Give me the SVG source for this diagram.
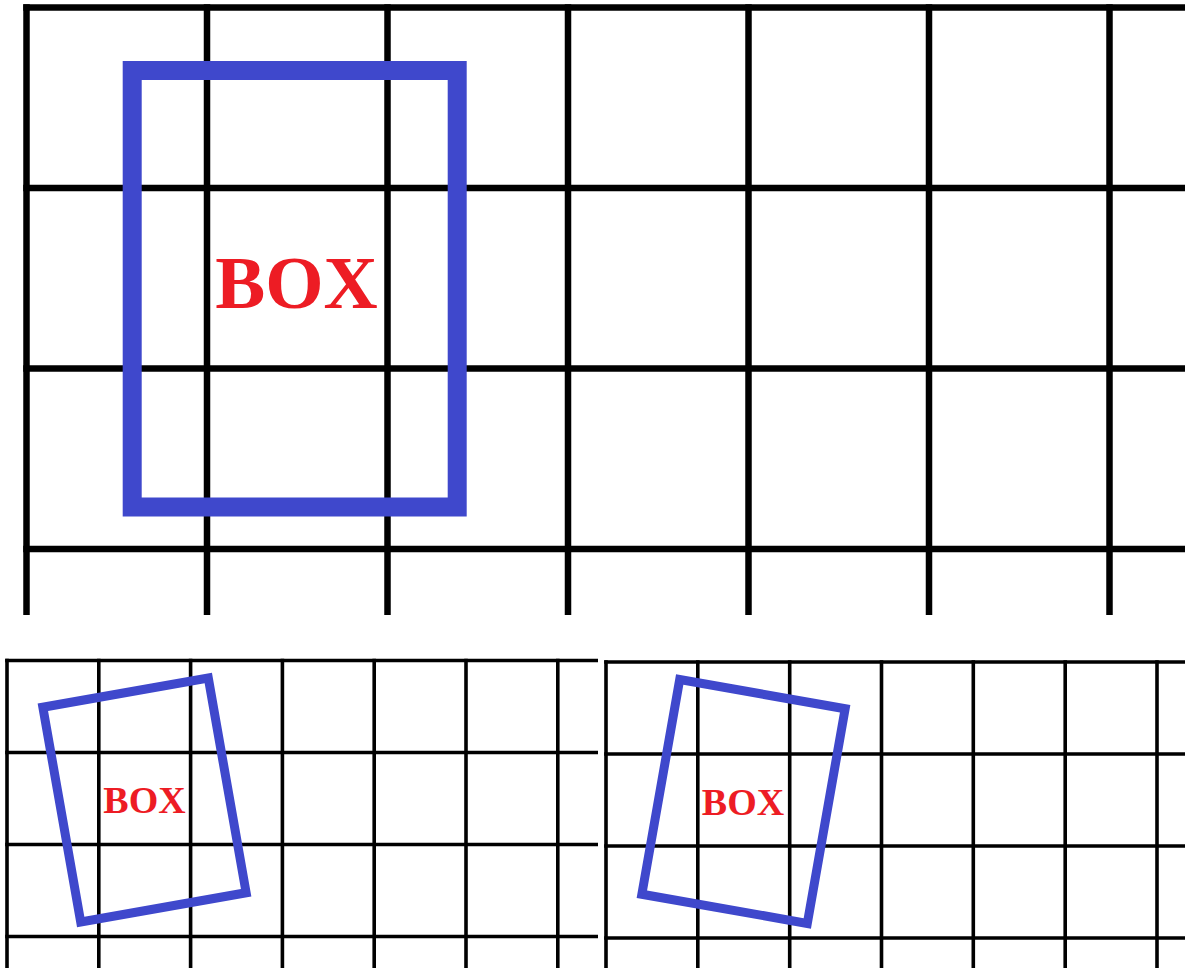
<svg xmlns="http://www.w3.org/2000/svg" width="1185" height="968" viewBox="0 0 1185 968">
<style>
.g1 line{stroke:#000;stroke-width:6.5}
.g2 line{stroke:#000;stroke-width:3.6}
.box{fill:none;stroke:#3F48CC}
.lbl{font-family:"Liberation Serif","Times New Roman",serif;font-weight:bold;fill:#ED1C24;text-anchor:middle}
</style>
<rect width="1185" height="968" fill="#fff"/>
<g id="grid-top" class="g1">
<line x1="26.5" y1="4.25" x2="26.5" y2="615"/>
<line x1="207" y1="4.25" x2="207" y2="615"/>
<line x1="387.5" y1="4.25" x2="387.5" y2="615"/>
<line x1="568" y1="4.25" x2="568" y2="615"/>
<line x1="748.5" y1="4.25" x2="748.5" y2="615"/>
<line x1="929" y1="4.25" x2="929" y2="615"/>
<line x1="1109.5" y1="4.25" x2="1109.5" y2="615"/>
<line x1="23.25" y1="7.5" x2="1185" y2="7.5"/>
<line x1="23.25" y1="188" x2="1185" y2="188"/>
<line x1="23.25" y1="368.5" x2="1185" y2="368.5"/>
<line x1="23.25" y1="549" x2="1185" y2="549"/>
</g>
<g id="grid-left" class="g2">
<line x1="7" y1="658.7" x2="7" y2="968"/>
<line x1="98.8" y1="658.7" x2="98.8" y2="968"/>
<line x1="190.6" y1="658.7" x2="190.6" y2="968"/>
<line x1="282.4" y1="658.7" x2="282.4" y2="968"/>
<line x1="374.2" y1="658.7" x2="374.2" y2="968"/>
<line x1="466" y1="658.7" x2="466" y2="968"/>
<line x1="557.8" y1="658.7" x2="557.8" y2="968"/>
<line x1="5.2" y1="660.5" x2="598" y2="660.5"/>
<line x1="5.2" y1="752.5" x2="598" y2="752.5"/>
<line x1="5.2" y1="844.5" x2="598" y2="844.5"/>
<line x1="5.2" y1="936.5" x2="598" y2="936.5"/>
</g>
<g id="grid-right" class="g2">
<line x1="606" y1="660.2" x2="606" y2="968"/>
<line x1="697.8" y1="660.2" x2="697.8" y2="968"/>
<line x1="789.7" y1="660.2" x2="789.7" y2="968"/>
<line x1="881.5" y1="660.2" x2="881.5" y2="968"/>
<line x1="973.3" y1="660.2" x2="973.3" y2="968"/>
<line x1="1065.2" y1="660.2" x2="1065.2" y2="968"/>
<line x1="1157" y1="660.2" x2="1157" y2="968"/>
<line x1="604.2" y1="662" x2="1185" y2="662"/>
<line x1="604.2" y1="754" x2="1185" y2="754"/>
<line x1="604.2" y1="846" x2="1185" y2="846"/>
<line x1="604.2" y1="938" x2="1185" y2="938"/>
</g>
<g id="connectors"></g>
<g id="box-top">
<rect class="box" x="132.2" y="70.5" width="325" height="436.5" stroke-width="19"/>
<text class="lbl" x="296.5" y="308" font-size="75">BOX</text>
</g>
<g id="box-left">
<rect class="box" x="60.5" y="691" width="168" height="218" stroke-width="9" transform="rotate(-10 144.5 800)"/>
<text class="lbl" x="144.5" y="813" font-size="38">BOX</text>
</g>
<g id="box-right">
<rect class="box" x="659.5" y="692.5" width="168" height="218" stroke-width="9" transform="rotate(10 743.5 801.5)"/>
<text class="lbl" x="743" y="815" font-size="38">BOX</text>
</g>
</svg>
